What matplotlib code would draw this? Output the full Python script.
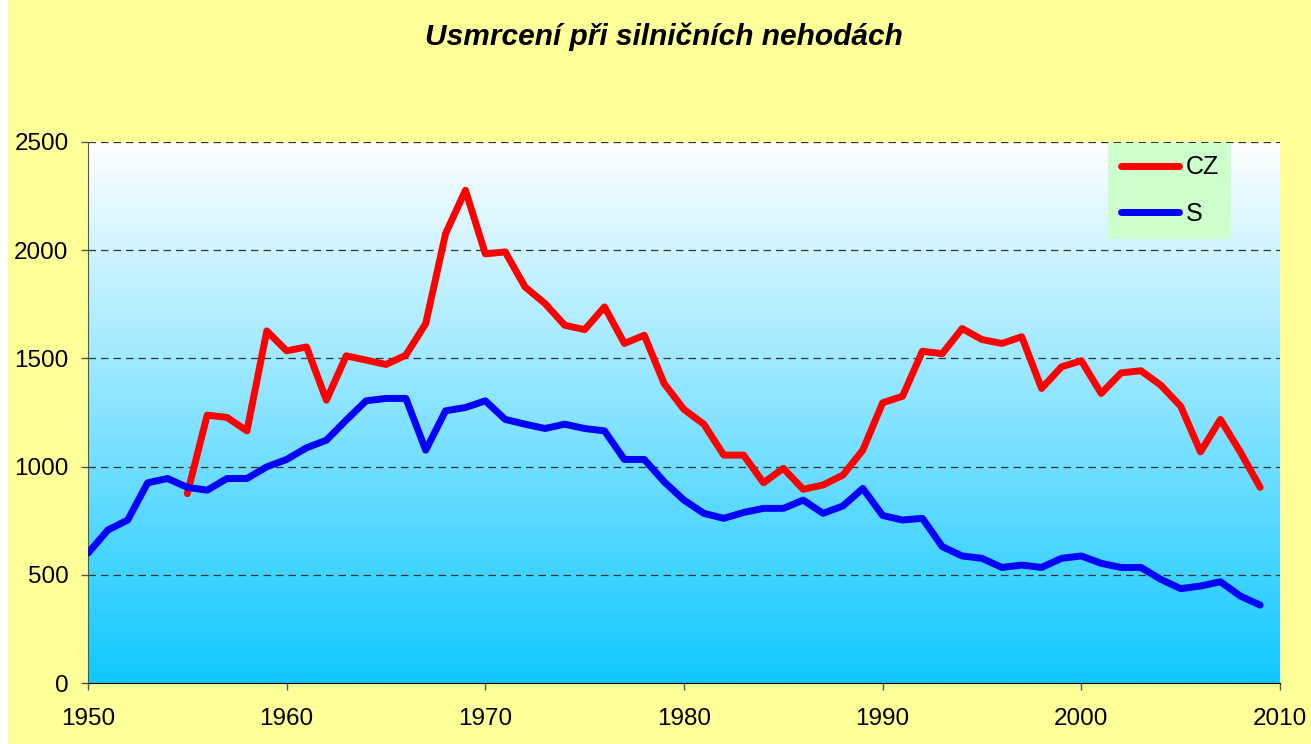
import matplotlib
matplotlib.use("Agg")
import matplotlib.pyplot as plt
import numpy as np
from matplotlib.colors import LinearSegmentedColormap
from matplotlib.patches import Rectangle

# Data
years_s = list(range(1950, 2010))
s_values = [600, 707, 753, 925, 945, 904, 891, 945, 945, 999,
            1033, 1087, 1122, 1215, 1304, 1315, 1315, 1076, 1258, 1273,
            1304, 1218, 1196, 1176, 1196, 1176, 1165, 1033, 1033, 930,
            845, 784, 761, 788, 807, 807, 845, 784, 818, 899,
            774, 753, 761, 630, 587, 576, 534, 545, 534, 576,
            587, 553, 534, 534, 479, 436, 448, 468, 402, 360]

years_cz = list(range(1955, 2010))
cz_values = [875, 1238, 1227, 1165, 1627, 1535, 1553, 1307, 1512, 1492,
             1472, 1515, 1661, 2077, 2277, 1983, 1992, 1830, 1754, 1653,
             1633, 1738, 1569, 1607, 1384, 1264, 1196, 1053, 1053, 925,
             992, 895, 915, 961, 1076, 1295, 1325, 1533, 1522, 1638,
             1587, 1569, 1600, 1361, 1461, 1489, 1338, 1433, 1443, 1376,
             1279, 1068, 1218, 1068, 904]

x_ticks = [1950, 1960, 1970, 1980, 1990, 2000, 2010]
y_ticks = [0, 500, 1000, 1500, 2000, 2500]

plt.rcParams['font.family'] = ['Liberation Sans', 'DejaVu Sans']

W, H = 1311, 744
fig = plt.figure(figsize=(W / 100, H / 100), dpi=100, facecolor='#FFFF99')
# thin white strip on the left edge, as in the source image
fig.patches.append(Rectangle((0, 0), 8 / W, 1, transform=fig.transFigure,
                             facecolor='white', edgecolor='none', zorder=-10))

ax = fig.add_axes([88 / W, (H - 683) / H, (1280 - 88) / W, (683 - 142) / H])
ax.set_facecolor('none')

# vertical gradient white -> cyan
cmap = LinearSegmentedColormap.from_list('bg', ['#10C8FF', '#FFFFFF'])
grad = np.linspace(0, 1, 256).reshape(-1, 1)
ax.imshow(grad, cmap=cmap, aspect='auto', origin='lower',
          extent=[1950, 2010, 0, 2500], zorder=0)

for y in y_ticks[1:]:
    ax.axhline(y, color='#333333', linestyle=(0, (6, 4)), linewidth=0.9, zorder=1)

ax.plot(years_cz, cz_values, color='#FF0000', linewidth=5, label='CZ',
        solid_capstyle='round', solid_joinstyle='round', zorder=3)
ax.plot(years_s, s_values, color='#0000FF', linewidth=5, label='S',
        solid_capstyle='round', solid_joinstyle='round', zorder=3)

ax.set_xlim(1950, 2010)
ax.set_ylim(0, 2500)
ax.set_xticks(x_ticks)
ax.set_yticks(y_ticks)
ax.tick_params(axis='both', labelsize=17.5, direction='out', length=5,
               color='#555555', width=1)
ax.tick_params(axis='x', pad=13)
ax.tick_params(axis='y', pad=9)

for side in ['top', 'right']:
    ax.spines[side].set_visible(False)
ax.spines['left'].set_color('#555555')
ax.spines['bottom'].set_color('black')

fig.text(663.5 / W, 1 - 37 / H, 'Usmrcení při silničních nehodách', ha='center',
         va='center', fontsize=21.5, fontweight='bold', fontstyle='italic')

leg = ax.legend(loc='upper left', bbox_to_anchor=(1108 / W, 1 - 143 / H),
                bbox_transform=fig.transFigure, borderaxespad=0, fontsize=18,
                frameon=True, fancybox=False, facecolor='#CCFFCC',
                edgecolor='none', framealpha=1, handlelength=2.35,
                handletextpad=0.25, labelspacing=0.9, borderpad=0.5)

fig.savefig('out.png', dpi=100, facecolor=fig.get_facecolor())
